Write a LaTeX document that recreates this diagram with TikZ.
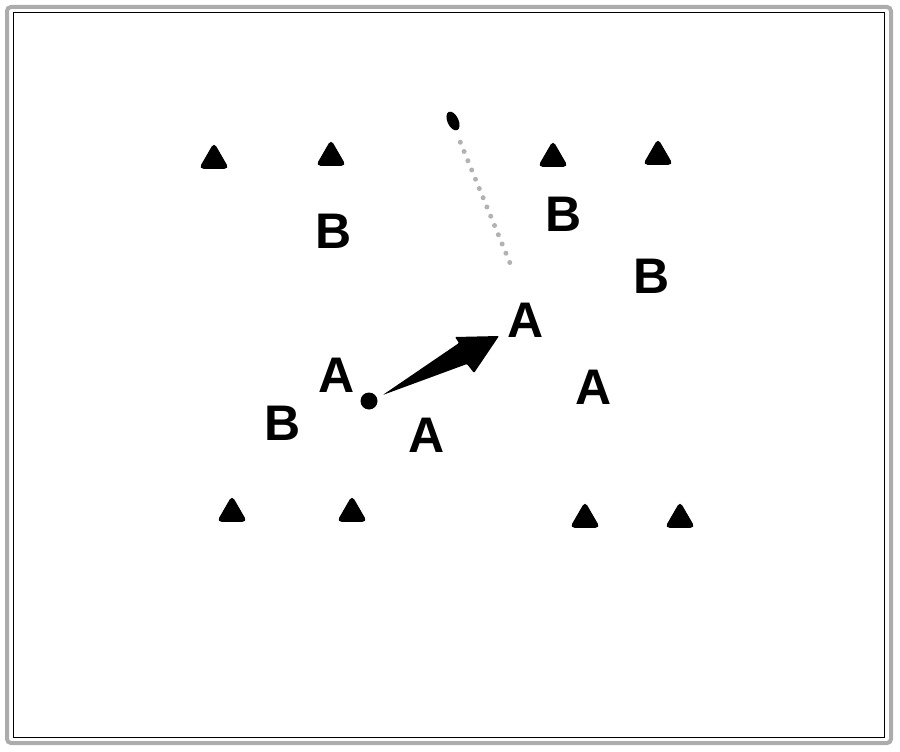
\documentclass[tikz,border=0pt]{standalone}
\usepackage{fontspec}
\setmainfont{Liberation Sans}
\usetikzlibrary{shapes.geometric}
\begin{document}
\begin{tikzpicture}[x=1pt,y=-1pt,
  tri/.style={regular polygon,regular polygon sides=3,fill=black,draw=black,line width=2pt,rounded corners=3pt,minimum size=31pt,inner sep=0pt},
  letter/.style={font=\fontsize{50}{50}\selectfont\bfseries,inner sep=0pt,text=black},
  ballst/.style={circle,fill=black,minimum size=17pt,inner sep=0pt},
  trail/.style={gray!60,line width=5pt,line cap=round,dash pattern=on 0pt off 10pt}]
\useasboundingbox (0,0) rectangle (900,752);
% frame
\draw[gray!65,line width=4pt,rounded corners=4pt] (7,7) rectangle (891,743);
\draw[black,line width=1pt] (13,13) rectangle (884,737);
% triangles
\node[tri] (t1) at (214,160) {};
\node[tri] (t2) at (331,157) {};
\node[tri] (t3) at (553,158) {};
\node[tri] (t4) at (658,156) {};
\node[tri] (t5) at (232,513) {};
\node[tri] (t6) at (352,513) {};
\node[tri] (t7) at (585,519) {};
\node[tri] (t8) at (680,519) {};
% letters
\node[letter] (b1) at (334,231) {B};
\node[letter] (b2) at (564,214) {B};
\node[letter] (b3) at (652,276) {B};
\node[letter] (b4) at (283,423) {B};
\node[letter] (a1) at (337,375) {A};
\node[letter] (a2) at (526,320) {A};
\node[letter] (a3) at (594,387) {A};
\node[letter] (a4) at (427,435) {A};
% ball
\node[ballst] (ball) at (369,401) {};
% arrow
\fill[black,rounded corners=1pt] (ball.east) ++(5,-6) -- (459,343) -- (455,337) -- (499,336) -- (474,373) -- (467,364) -- cycle;
% trail
\node[fill=black,ellipse,minimum width=11pt,minimum height=20pt,inner sep=0pt,rotate=25] (blob) at (453,121) {};
\coordinate (trailend) at (512,268);
\draw[trail] (blob.south) ++(3,12) -- (trailend);
\end{tikzpicture}
\end{document}
